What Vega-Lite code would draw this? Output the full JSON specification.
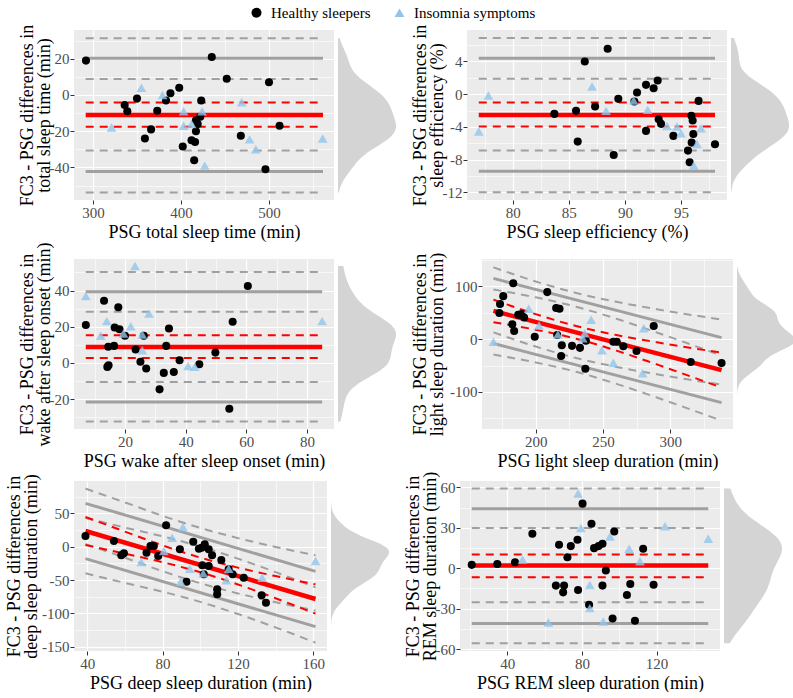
{
  "$schema": "https://vega.github.io/schema/vega-lite/v6.json",
  "padding": {"left": 5, "top": 5, "right": 0, "bottom": 0},
  "datasets": {
    "p1": [
      {"x":292,"y":19,"g":"H"},{"x":435,"y":21,"g":"H"},{"x":452,"y":9,"g":"H"},{"x":500,"y":7,"g":"H"},{"x":398,"y":4,"g":"H"},{"x":388,"y":1,"g":"H"},{"x":350,"y":-2,"g":"H"},{"x":383,"y":-3,"g":"H"},{"x":423,"y":-3,"g":"H"},{"x":336,"y":-5.5,"g":"H"},{"x":339,"y":-9,"g":"H"},{"x":373,"y":-8.7,"g":"H"},{"x":422,"y":-12,"g":"H"},{"x":417,"y":-14,"g":"H"},{"x":419,"y":-16,"g":"H"},{"x":512,"y":-17,"g":"H"},{"x":366,"y":-19,"g":"H"},{"x":417,"y":-20,"g":"H"},{"x":359,"y":-24,"g":"H"},{"x":412,"y":-25,"g":"H"},{"x":416,"y":-26,"g":"H"},{"x":468,"y":-22.5,"g":"H"},{"x":402,"y":-28.5,"g":"H"},{"x":415,"y":-36,"g":"H"},{"x":496,"y":-41,"g":"H"},
      {"x":355,"y":4,"g":"I"},{"x":379,"y":0,"g":"I"},{"x":321,"y":-18,"g":"I"},{"x":403,"y":-9,"g":"I"},{"x":403,"y":-17,"g":"I"},{"x":412,"y":-16,"g":"I"},{"x":424,"y":-9,"g":"I"},{"x":427,"y":-39,"g":"I"},{"x":469,"y":-4,"g":"I"},{"x":478,"y":-24.5,"g":"I"},{"x":485,"y":-30,"g":"I"},{"x":561,"y":-24,"g":"I"}
    ],
    "p1l": [
      {"x":291.7,"y":-11.0,"id":"b"},{"x":561.4,"y":-11.0,"id":"b"},
      {"x":291.7,"y":-4.2,"id":"bu"},{"x":561.4,"y":-4.2,"id":"bu"},
      {"x":291.7,"y":-17.5,"id":"bl"},{"x":561.4,"y":-17.5,"id":"bl"},
      {"x":291.7,"y":20.3,"id":"lu"},{"x":561.4,"y":20.3,"id":"lu"},
      {"x":291.7,"y":-42.2,"id":"ll"},{"x":561.4,"y":-42.2,"id":"ll"},
      {"x":291.7,"y":31.3,"id":"luo"},{"x":561.4,"y":31.3,"id":"luo"},
      {"x":291.7,"y":8.8,"id":"lui"},{"x":561.4,"y":8.8,"id":"lui"},
      {"x":291.7,"y":-30.6,"id":"lli"},{"x":561.4,"y":-30.6,"id":"lli"},
      {"x":291.7,"y":-53.8,"id":"llo"},{"x":561.4,"y":-53.8,"id":"llo"}
    ],
    "p2": [
      {"x":88.46,"y":5.55,"g":"H"},{"x":86.42,"y":4.0,"g":"H"},{"x":92.92,"y":1.67,"g":"H"},{"x":91.88,"y":1.14,"g":"H"},{"x":92.56,"y":0.73,"g":"H"},{"x":91.08,"y":0.2,"g":"H"},{"x":89.41,"y":-0.57,"g":"H"},{"x":96.57,"y":-0.82,"g":"H"},{"x":90.84,"y":-0.9,"g":"H"},{"x":85.64,"y":-2.04,"g":"H"},{"x":83.71,"y":-2.41,"g":"H"},{"x":87.34,"y":-1.51,"g":"H"},{"x":93.01,"y":-3.06,"g":"H"},{"x":93.22,"y":-3.63,"g":"H"},{"x":95.92,"y":-2.65,"g":"H"},{"x":96.04,"y":-3.22,"g":"H"},{"x":91.88,"y":-4.49,"g":"H"},{"x":94.32,"y":-5.1,"g":"H"},{"x":96.1,"y":-4.86,"g":"H"},{"x":85.79,"y":-5.8,"g":"H"},{"x":95.95,"y":-5.92,"g":"H"},{"x":98.03,"y":-6.12,"g":"H"},{"x":95.62,"y":-6.9,"g":"H"},{"x":95.77,"y":-8.33,"g":"H"},{"x":89.0,"y":-7.43,"g":"H"},
      {"x":76.97,"y":-4.57,"g":"I"},{"x":77.83,"y":-0.16,"g":"I"},{"x":87.07,"y":0.94,"g":"I"},{"x":88.32,"y":-2.04,"g":"I"},{"x":90.78,"y":-0.78,"g":"I"},{"x":92.03,"y":-1.92,"g":"I"},{"x":93.75,"y":-3.88,"g":"I"},{"x":94.64,"y":-3.96,"g":"I"},{"x":95.0,"y":-4.78,"g":"I"},{"x":96.42,"y":-6.08,"g":"I"},{"x":96.78,"y":-4.16,"g":"I"},{"x":96.13,"y":-8.73,"g":"I"}
    ],
    "p2l": [
      {"x":76.97,"y":-2.53,"id":"b"},{"x":98.03,"y":-2.53,"id":"b"},
      {"x":76.97,"y":-1.02,"id":"bu"},{"x":98.03,"y":-1.02,"id":"bu"},
      {"x":76.97,"y":-3.96,"id":"bl"},{"x":98.03,"y":-3.96,"id":"bl"},
      {"x":76.97,"y":4.41,"id":"lu"},{"x":98.03,"y":4.41,"id":"lu"},
      {"x":76.97,"y":-9.43,"id":"ll"},{"x":98.03,"y":-9.43,"id":"ll"},
      {"x":76.97,"y":6.86,"id":"luo"},{"x":98.03,"y":6.86,"id":"luo"},
      {"x":76.97,"y":1.88,"id":"lui"},{"x":98.03,"y":1.88,"id":"lui"},
      {"x":76.97,"y":-6.9,"id":"lli"},{"x":98.03,"y":-6.9,"id":"lli"},
      {"x":76.97,"y":-12.0,"id":"llo"},{"x":98.03,"y":-12.0,"id":"llo"}
    ],
    "p3": [
      {"x":7.1,"y":20.9,"g":"H"},{"x":13.1,"y":34.3,"g":"H"},{"x":17.8,"y":30.8,"g":"H"},{"x":16.6,"y":19.6,"g":"H"},{"x":18.2,"y":18.6,"g":"H"},{"x":20.0,"y":15.0,"g":"H"},{"x":26.2,"y":15.0,"g":"H"},{"x":34.5,"y":19.0,"g":"H"},{"x":14.5,"y":8.9,"g":"H"},{"x":16.4,"y":9.4,"g":"H"},{"x":23.5,"y":7.4,"g":"H"},{"x":33.6,"y":9.4,"g":"H"},{"x":25.1,"y":0.6,"g":"H"},{"x":38.0,"y":1.5,"g":"H"},{"x":44.5,"y":-0.7,"g":"H"},{"x":49.8,"y":5.7,"g":"H"},{"x":14.2,"y":-2.2,"g":"H"},{"x":14.6,"y":-1.3,"g":"H"},{"x":27.0,"y":-3.1,"g":"H"},{"x":32.8,"y":-5.5,"g":"H"},{"x":36.1,"y":-5.0,"g":"H"},{"x":31.4,"y":-14.6,"g":"H"},{"x":54.4,"y":-25.3,"g":"H"},{"x":60.5,"y":42.5,"g":"H"},{"x":55.5,"y":22.7,"g":"H"},
      {"x":7.1,"y":36.9,"g":"I"},{"x":23.3,"y":53.5,"g":"I"},{"x":14.0,"y":23.1,"g":"I"},{"x":12.0,"y":15.0,"g":"I"},{"x":21.9,"y":20.3,"g":"I"},{"x":27.9,"y":27.3,"g":"I"},{"x":19.5,"y":16.2,"g":"I"},{"x":25.7,"y":15.7,"g":"I"},{"x":25.7,"y":7.0,"g":"I"},{"x":40.8,"y":-1.7,"g":"I"},{"x":43.0,"y":-2.2,"g":"I"},{"x":85.0,"y":23.1,"g":"I"}
    ],
    "p3l": [
      {"x":7.08,"y":8.86,"id":"b"},{"x":85.0,"y":8.86,"id":"b"},
      {"x":7.08,"y":15.3,"id":"bu"},{"x":85.0,"y":15.3,"id":"bu"},
      {"x":7.08,"y":2.77,"id":"bl"},{"x":85.0,"y":2.77,"id":"bl"},
      {"x":7.08,"y":39.3,"id":"lu"},{"x":85.0,"y":39.3,"id":"lu"},
      {"x":7.08,"y":-21.6,"id":"ll"},{"x":85.0,"y":-21.6,"id":"ll"},
      {"x":7.08,"y":50.2,"id":"luo"},{"x":85.0,"y":50.2,"id":"luo"},
      {"x":7.08,"y":28.2,"id":"lui"},{"x":85.0,"y":28.2,"id":"lui"},
      {"x":7.08,"y":-10.5,"id":"lli"},{"x":85.0,"y":-10.5,"id":"lli"},
      {"x":7.08,"y":-32.3,"id":"llo"},{"x":85.0,"y":-32.3,"id":"llo"}
    ],
    "p4": [
      {"x":183.3,"y":105.4,"g":"H"},{"x":175.9,"y":81.2,"g":"H"},{"x":173.5,"y":66.5,"g":"H"},{"x":173.0,"y":49.2,"g":"H"},{"x":182.6,"y":28.1,"g":"H"},{"x":184.0,"y":15.3,"g":"H"},{"x":208.6,"y":88.8,"g":"H"},{"x":187.0,"y":46.0,"g":"H"},{"x":189.4,"y":47.3,"g":"H"},{"x":191.4,"y":40.9,"g":"H"},{"x":199.3,"y":4.5,"g":"H"},{"x":215.2,"y":58.8,"g":"H"},{"x":217.7,"y":57.5,"g":"H"},{"x":216.0,"y":7.7,"g":"H"},{"x":219.4,"y":-11.5,"g":"H"},{"x":218.9,"y":-31.9,"g":"H"},{"x":227.0,"y":-12.8,"g":"H"},{"x":232.9,"y":-16.6,"g":"H"},{"x":237.3,"y":-3.2,"g":"H"},{"x":236.9,"y":-56.2,"g":"H"},{"x":257.7,"y":-5.1,"g":"H"},{"x":260.2,"y":-5.1,"g":"H"},{"x":265.1,"y":-13.4,"g":"H"},{"x":274.9,"y":-22.4,"g":"H"},{"x":287.7,"y":24.9,"g":"H"},{"x":315.2,"y":-43.5,"g":"H"},{"x":338.1,"y":-45.4,"g":"H"},
      {"x":168.6,"y":-5.1,"g":"I"},{"x":194.8,"y":57.5,"g":"I"},{"x":202.5,"y":25.6,"g":"I"},{"x":216.5,"y":8.9,"g":"I"},{"x":235.0,"y":1.3,"g":"I"},{"x":241.2,"y":36.4,"g":"I"},{"x":249.2,"y":-21.1,"g":"I"},{"x":257.7,"y":-44.7,"g":"I"},{"x":279.4,"y":-64.5,"g":"I"},{"x":280.3,"y":20.4,"g":"I"},{"x":236.4,"y":10.9,"g":"I"}
    ],
    "p4l": [
      {"x":168.6,"y":53.2,"id":"b"},{"x":338.1,"y":-58.7,"id":"b"},
      {"x":168.6,"y":74.4,"id":"bu"},{"x":200,"y":47.1,"id":"bu"},{"x":230,"y":24.7,"id":"bu"},{"x":260,"y":7.6,"id":"bu"},{"x":290,"y":-6.1,"id":"bu"},{"x":338.1,"y":-25.7,"id":"bu"},
      {"x":168.6,"y":32.0,"id":"bl"},{"x":200,"y":17.7,"id":"bl"},{"x":230,"y":0.7,"id":"bl"},{"x":260,"y":-21.8,"id":"bl"},{"x":290,"y":-47.9,"id":"bl"},{"x":338.1,"y":-91.7,"id":"bl"},
      {"x":168.6,"y":114.7,"id":"lu"},{"x":338.1,"y":2.8,"id":"lu"},
      {"x":168.6,"y":-8.3,"id":"ll"},{"x":338.1,"y":-120.2,"id":"ll"},
      {"x":168.6,"y":135.7,"id":"luo"},{"x":200,"y":108.9,"id":"luo"},{"x":230,"y":87.2,"id":"luo"},{"x":260,"y":70.4,"id":"luo"},{"x":290,"y":56.5,"id":"luo"},{"x":338.1,"y":36.8,"id":"luo"},
      {"x":168.6,"y":93.7,"id":"lui"},{"x":200,"y":78.9,"id":"lui"},{"x":230,"y":61.2,"id":"lui"},{"x":260,"y":38.4,"id":"lui"},{"x":290,"y":12.5,"id":"lui"},{"x":338.1,"y":-31.2,"id":"lui"},
      {"x":168.6,"y":12.7,"id":"lli"},{"x":200,"y":-14.1,"id":"lli"},{"x":230,"y":-35.8,"id":"lli"},{"x":260,"y":-52.6,"id":"lli"},{"x":290,"y":-66.5,"id":"lli"},{"x":338.1,"y":-86.2,"id":"lli"},
      {"x":168.6,"y":-29.3,"id":"llo"},{"x":200,"y":-44.1,"id":"llo"},{"x":230,"y":-61.8,"id":"llo"},{"x":260,"y":-84.6,"id":"llo"},{"x":290,"y":-110.5,"id":"llo"},{"x":338.1,"y":-154.2,"id":"llo"}
    ],
    "p5": [
      {"x":39.1,"y":16,"g":"H"},{"x":54.2,"y":8.5,"g":"H"},{"x":58.1,"y":-13,"g":"H"},{"x":59.5,"y":-10,"g":"H"},{"x":71.5,"y":-9,"g":"H"},{"x":73.6,"y":1,"g":"H"},{"x":75.4,"y":1,"g":"H"},{"x":77.7,"y":-14,"g":"H"},{"x":81.9,"y":32,"g":"H"},{"x":89.2,"y":-4,"g":"H"},{"x":96.3,"y":7.5,"g":"H"},{"x":99.3,"y":-3,"g":"H"},{"x":100.7,"y":-1.5,"g":"H"},{"x":102.4,"y":3.5,"g":"H"},{"x":104.5,"y":-4,"g":"H"},{"x":106.3,"y":-13,"g":"H"},{"x":101.1,"y":-28,"g":"H"},{"x":101.9,"y":-41.5,"g":"H"},{"x":104.5,"y":-29,"g":"H"},{"x":111.2,"y":-20,"g":"H"},{"x":115.1,"y":-34,"g":"H"},{"x":117.2,"y":-41.5,"g":"H"},{"x":123.1,"y":-46.5,"g":"H"},{"x":92.7,"y":-52.5,"g":"H"},{"x":109.0,"y":-64,"g":"H"},{"x":109.0,"y":-71.5,"g":"H"},{"x":132.6,"y":-73,"g":"H"},{"x":134.9,"y":-84,"g":"H"},
      {"x":68.7,"y":-23,"g":"I"},{"x":80.7,"y":-6.5,"g":"I"},{"x":85.1,"y":13.5,"g":"I"},{"x":90.8,"y":29.5,"g":"I"},{"x":89.6,"y":-52.5,"g":"I"},{"x":94.5,"y":-33,"g":"I"},{"x":101.6,"y":-40,"g":"I"},{"x":113.9,"y":-50.5,"g":"I"},{"x":115.1,"y":-33,"g":"I"},{"x":132.9,"y":-46.5,"g":"I"},{"x":161.2,"y":-21.5,"g":"I"}
    ],
    "p5l": [
      {"x":39.1,"y":23.5,"id":"b"},{"x":161.2,"y":-78.5,"id":"b"},
      {"x":39.1,"y":44.5,"id":"bu"},{"x":60,"y":22.65,"id":"bu"},{"x":80,"y":1.95,"id":"bu"},{"x":100,"y":-16.35,"id":"bu"},{"x":120,"y":-31.45,"id":"bu"},{"x":140,"y":-44.15,"id":"bu"},{"x":161.2,"y":-56.5,"id":"bu"},
      {"x":39.1,"y":2.5,"id":"bl"},{"x":60,"y":-10.55,"id":"bl"},{"x":80,"y":-23.25,"id":"bl"},{"x":100,"y":-38.35,"id":"bl"},{"x":120,"y":-56.65,"id":"bl"},{"x":140,"y":-77.35,"id":"bl"},{"x":161.2,"y":-100.5,"id":"bl"},
      {"x":39.1,"y":65.0,"id":"lu"},{"x":161.2,"y":-37.0,"id":"lu"},
      {"x":39.1,"y":-18.0,"id":"ll"},{"x":161.2,"y":-120.0,"id":"ll"},
      {"x":39.1,"y":87.0,"id":"luo"},{"x":60,"y":66.45,"id":"luo"},{"x":80,"y":46.25,"id":"luo"},{"x":100,"y":28.15,"id":"luo"},{"x":120,"y":12.85,"id":"luo"},{"x":140,"y":-0.35,"id":"luo"},{"x":161.2,"y":-13.0,"id":"luo"},
      {"x":39.1,"y":43.0,"id":"lui"},{"x":60,"y":28.65,"id":"lui"},{"x":80,"y":15.45,"id":"lui"},{"x":100,"y":0.15,"id":"lui"},{"x":120,"y":-17.95,"id":"lui"},{"x":140,"y":-38.15,"id":"lui"},{"x":161.2,"y":-61.0,"id":"lui"},
      {"x":39.1,"y":4.0,"id":"lli"},{"x":60,"y":-16.55,"id":"lli"},{"x":80,"y":-36.75,"id":"lli"},{"x":100,"y":-54.85,"id":"lli"},{"x":120,"y":-70.15,"id":"lli"},{"x":140,"y":-83.35,"id":"lli"},{"x":161.2,"y":-96.0,"id":"lli"},
      {"x":39.1,"y":-40.0,"id":"llo"},{"x":60,"y":-54.35,"id":"llo"},{"x":80,"y":-67.55,"id":"llo"},{"x":100,"y":-82.85,"id":"llo"},{"x":120,"y":-100.95,"id":"llo"},{"x":140,"y":-121.15,"id":"llo"},{"x":161.2,"y":-144.0,"id":"llo"}
    ],
    "p6": [
      {"x":20.9,"y":2.5,"g":"H"},{"x":34.6,"y":3.2,"g":"H"},{"x":44.1,"y":4.5,"g":"H"},{"x":53.4,"y":25.6,"g":"H"},{"x":67.7,"y":17.4,"g":"H"},{"x":74.0,"y":16.4,"g":"H"},{"x":77.6,"y":21.1,"g":"H"},{"x":72.2,"y":8.2,"g":"H"},{"x":80.3,"y":47.9,"g":"H"},{"x":85.1,"y":33.0,"g":"H"},{"x":86.5,"y":14.9,"g":"H"},{"x":88.9,"y":16.4,"g":"H"},{"x":91.0,"y":18.1,"g":"H"},{"x":97.3,"y":27.3,"g":"H"},{"x":92.8,"y":-1.7,"g":"H"},{"x":66.0,"y":-12.9,"g":"H"},{"x":70.4,"y":-12.9,"g":"H"},{"x":69.9,"y":-17.9,"g":"H"},{"x":77.9,"y":-16.1,"g":"H"},{"x":91.0,"y":-12.9,"g":"H"},{"x":105.9,"y":-11.7,"g":"H"},{"x":118.4,"y":-12.2,"g":"H"},{"x":112.8,"y":14.4,"g":"H"},{"x":104.1,"y":-19.9,"g":"H"},{"x":83.8,"y":-27.1,"g":"H"},{"x":96.4,"y":-37.3,"g":"H"},{"x":108.4,"y":-39.0,"g":"H"},
      {"x":77.9,"y":55.4,"g":"I"},{"x":79.4,"y":29.8,"g":"I"},{"x":48.1,"y":6.5,"g":"I"},{"x":62.0,"y":-40.2,"g":"I"},{"x":84.2,"y":-12.4,"g":"I"},{"x":84.2,"y":-29.6,"g":"I"},{"x":91.4,"y":-39.5,"g":"I"},{"x":95.0,"y":23.6,"g":"I"},{"x":105.3,"y":14.4,"g":"I"},{"x":111.1,"y":5.2,"g":"I"},{"x":124.5,"y":31.1,"g":"I"},{"x":147.7,"y":21.9,"g":"I"}
    ],
    "p6l": [
      {"x":20.9,"y":2.0,"id":"b"},{"x":147.7,"y":2.0,"id":"b"},
      {"x":20.9,"y":10.2,"id":"bu"},{"x":147.7,"y":10.2,"id":"bu"},
      {"x":20.9,"y":-6.7,"id":"bl"},{"x":147.7,"y":-6.7,"id":"bl"},
      {"x":20.9,"y":44.2,"id":"lu"},{"x":147.7,"y":44.2,"id":"lu"},
      {"x":20.9,"y":-41.0,"id":"ll"},{"x":147.7,"y":-41.0,"id":"ll"},
      {"x":20.9,"y":59.1,"id":"luo"},{"x":147.7,"y":59.1,"id":"luo"},
      {"x":20.9,"y":29.8,"id":"lui"},{"x":147.7,"y":29.8,"id":"lui"},
      {"x":20.9,"y":-25.3,"id":"lli"},{"x":147.7,"y":-25.3,"id":"lli"},
      {"x":20.9,"y":-55.7,"id":"llo"},{"x":147.7,"y":-55.7,"id":"llo"}
    ]
  },
  "columns": 1,
  "align": "none",
  "spacing": 1,
  "concat": [
    {"spacing": 15, "hconcat": [
      {"spacing": 4, "hconcat": [
        {"width": 260, "height": 170, "view": {"fill": "#ebebeb", "stroke": null},
         "encoding": {
           "x": {"field": "x", "type": "quantitative", "scale": {"domain": [278.4, 573.9], "nice": false, "zero": false},
                 "axis": {"title": "PSG total sleep time (min)", "values": [300,350,400,450,500,550], "labelExpr": "datum.value % 100 === 0 ? '' + datum.value : ''", "gridWidth": {"condition": {"test": "datum.value % 100 !== 0", "value": 0.6}, "value": 1.2}, "tickOpacity": {"condition": {"test": "datum.value % 100 !== 0", "value": 0}, "value": 1}}},
           "y": {"field": "y", "type": "quantitative", "scale": {"domain": [-58.0, 35.9], "nice": false, "zero": false},
                 "axis": {"title": ["FC3 - PSG differences in", "total sleep time (min)"], "values": [-50,-40,-30,-20,-10,0,10,20,30], "labelExpr": "datum.value % 20 === 0 ? '' + datum.value : ''", "gridWidth": {"condition": {"test": "datum.value % 20 !== 0", "value": 0.6}, "value": 1.2}, "tickOpacity": {"condition": {"test": "datum.value % 20 !== 0", "value": 0}, "value": 1}}}
         },
         "layer": [
           {"data": {"name": "p1l"}, "transform": [{"filter": {"field": "id", "oneOf": ["luo","lui","lli","llo"]}}], "mark": {"type": "line", "color": "#a0a0a0", "strokeWidth": 2, "strokeDash": [8, 6]}, "encoding": {"detail": {"field": "id"}}},
           {"data": {"name": "p1l"}, "transform": [{"filter": {"field": "id", "oneOf": ["lu","ll"]}}], "mark": {"type": "line", "color": "#a0a0a0", "strokeWidth": 3}, "encoding": {"detail": {"field": "id"}}},
           {"data": {"name": "p1l"}, "transform": [{"filter": {"field": "id", "oneOf": ["bu","bl"]}}], "mark": {"type": "line", "color": "#ff0000", "strokeWidth": 2, "strokeDash": [8, 6]}, "encoding": {"detail": {"field": "id"}}},
           {"data": {"name": "p1l"}, "transform": [{"filter": {"field": "id", "equal": "b"}}], "mark": {"type": "line", "color": "#ff0000", "strokeWidth": 4.5}, "encoding": {}},
           {"data": {"name": "p1"}, "mark": {"type": "point", "filled": true, "strokeWidth": 0},
            "encoding": {
              "color": {"field": "g", "type": "nominal", "scale": {"domain": ["H","I"], "range": ["#000000", "#92c5ec"]}, "legend": {"title": null, "orient": "none", "legendX": 175, "legendY": -25, "direction": "horizontal", "columns": 2, "labelFont": "Liberation Serif", "labelFontSize": 15, "labelColor": "#000000", "labelOffset": 7, "columnPadding": 21, "labelExpr": "datum.label === 'H' ? 'Healthy sleepers' : 'Insomnia symptoms'"}},
              "shape": {"field": "g", "type": "nominal", "scale": {"domain": ["H","I"], "range": ["circle", "triangle-up"]}, "legend": {"title": null, "orient": "none", "legendX": 175, "legendY": -25, "direction": "horizontal", "columns": 2, "labelFont": "Liberation Serif", "labelFontSize": 15, "labelColor": "#000000", "labelOffset": 7, "columnPadding": 21, "labelExpr": "datum.label === 'H' ? 'Healthy sleepers' : 'Insomnia symptoms'"}},
              "size": {"condition": {"test": "datum.g === 'I'", "value": 95}, "value": 65},
              "opacity": {"condition": {"test": "datum.g === 'I'", "value": 0.8}, "value": 1}
            }}
         ]},
        {"width": 58, "height": 170, "view": {"stroke": null, "fill": null}, "data": {"name": "p1"},
         "transform": [{"density": "y", "bandwidth": 6.5, "extent": [-53.8, 31.3], "as": ["v", "d"]}],
         "mark": {"type": "area", "orient": "horizontal", "color": "#d4d4d4"},
         "encoding": {"y": {"field": "v", "type": "quantitative", "scale": {"domain": [-58.0, 35.9], "nice": false, "zero": false}, "axis": null},
                      "x": {"field": "d", "type": "quantitative", "scale": {"zero": true, "nice": false}, "axis": null}}}
      ]},
      {"spacing": 4, "hconcat": [
        {"width": 260, "height": 170, "view": {"fill": "#ebebeb", "stroke": null},
         "encoding": {
           "x": {"field": "x", "type": "quantitative", "scale": {"domain": [75.92, 99.1], "nice": false, "zero": false},
                 "axis": {"title": "PSG sleep efficiency (%)", "values": [77.5,80,82.5,85,87.5,90,92.5,95,97.5], "labelExpr": "datum.value % 5 === 0 ? '' + datum.value : ''", "gridWidth": {"condition": {"test": "datum.value % 5 !== 0", "value": 0.6}, "value": 1.2}, "tickOpacity": {"condition": {"test": "datum.value % 5 !== 0", "value": 0}, "value": 1}}},
           "y": {"field": "y", "type": "quantitative", "scale": {"domain": [-12.94, 7.85], "nice": false, "zero": false},
                 "axis": {"title": ["FC3 - PSG differences in", "sleep efficiency (%)"], "values": [-12,-10,-8,-6,-4,-2,0,2,4,6], "labelExpr": "datum.value % 4 === 0 ? '' + datum.value : ''", "gridWidth": {"condition": {"test": "datum.value % 4 !== 0", "value": 0.6}, "value": 1.2}, "tickOpacity": {"condition": {"test": "datum.value % 4 !== 0", "value": 0}, "value": 1}}}
         },
         "layer": [
           {"data": {"name": "p2l"}, "transform": [{"filter": {"field": "id", "oneOf": ["luo","lui","lli","llo"]}}], "mark": {"type": "line", "color": "#a0a0a0", "strokeWidth": 2, "strokeDash": [8, 6]}, "encoding": {"detail": {"field": "id"}}},
           {"data": {"name": "p2l"}, "transform": [{"filter": {"field": "id", "oneOf": ["lu","ll"]}}], "mark": {"type": "line", "color": "#a0a0a0", "strokeWidth": 3}, "encoding": {"detail": {"field": "id"}}},
           {"data": {"name": "p2l"}, "transform": [{"filter": {"field": "id", "oneOf": ["bu","bl"]}}], "mark": {"type": "line", "color": "#ff0000", "strokeWidth": 2, "strokeDash": [8, 6]}, "encoding": {"detail": {"field": "id"}}},
           {"data": {"name": "p2l"}, "transform": [{"filter": {"field": "id", "equal": "b"}}], "mark": {"type": "line", "color": "#ff0000", "strokeWidth": 4.5}, "encoding": {}},
           {"data": {"name": "p2"}, "mark": {"type": "point", "filled": true, "strokeWidth": 0},
            "encoding": {
              "color": {"field": "g", "type": "nominal", "scale": {"domain": ["H","I"], "range": ["#000000", "#92c5ec"]}, "legend": null},
              "shape": {"field": "g", "type": "nominal", "scale": {"domain": ["H","I"], "range": ["circle", "triangle-up"]}, "legend": null},
              "size": {"condition": {"test": "datum.g === 'I'", "value": 95}, "value": 65},
              "opacity": {"condition": {"test": "datum.g === 'I'", "value": 0.8}, "value": 1}
            }}
         ]},
        {"width": 58, "height": 170, "view": {"stroke": null, "fill": null}, "data": {"name": "p2"},
         "transform": [{"density": "y", "bandwidth": 1.35, "extent": [-12.0, 6.86], "as": ["v", "d"]}],
         "mark": {"type": "area", "orient": "horizontal", "color": "#d4d4d4"},
         "encoding": {"y": {"field": "v", "type": "quantitative", "scale": {"domain": [-12.94, 7.85], "nice": false, "zero": false}, "axis": null},
                      "x": {"field": "d", "type": "quantitative", "scale": {"zero": true, "nice": false}, "axis": null}}}
      ]}
    ]},
    {"spacing": 15, "hconcat": [
      {"spacing": 4, "hconcat": [
        {"width": 260, "height": 170, "view": {"fill": "#ebebeb", "stroke": null},
         "encoding": {
           "x": {"field": "x", "type": "quantitative", "scale": {"domain": [3.2, 88.9], "nice": false, "zero": false},
                 "axis": {"title": "PSG wake after sleep onset (min)", "values": [10,20,30,40,50,60,70,80], "labelExpr": "datum.value % 20 === 0 ? '' + datum.value : ''", "gridWidth": {"condition": {"test": "datum.value % 20 !== 0", "value": 0.6}, "value": 1.2}, "tickOpacity": {"condition": {"test": "datum.value % 20 !== 0", "value": 0}, "value": 1}}},
           "y": {"field": "y", "type": "quantitative", "scale": {"domain": [-36.5, 57.4], "nice": false, "zero": false},
                 "axis": {"title": ["FC3 - PSG differences in", "wake after sleep onset (min)"], "values": [-30,-20,-10,0,10,20,30,40,50], "labelExpr": "datum.value % 20 === 0 ? '' + datum.value : ''", "gridWidth": {"condition": {"test": "datum.value % 20 !== 0", "value": 0.6}, "value": 1.2}, "tickOpacity": {"condition": {"test": "datum.value % 20 !== 0", "value": 0}, "value": 1}}}
         },
         "layer": [
           {"data": {"name": "p3l"}, "transform": [{"filter": {"field": "id", "oneOf": ["luo","lui","lli","llo"]}}], "mark": {"type": "line", "color": "#a0a0a0", "strokeWidth": 2, "strokeDash": [8, 6]}, "encoding": {"detail": {"field": "id"}}},
           {"data": {"name": "p3l"}, "transform": [{"filter": {"field": "id", "oneOf": ["lu","ll"]}}], "mark": {"type": "line", "color": "#a0a0a0", "strokeWidth": 3}, "encoding": {"detail": {"field": "id"}}},
           {"data": {"name": "p3l"}, "transform": [{"filter": {"field": "id", "oneOf": ["bu","bl"]}}], "mark": {"type": "line", "color": "#ff0000", "strokeWidth": 2, "strokeDash": [8, 6]}, "encoding": {"detail": {"field": "id"}}},
           {"data": {"name": "p3l"}, "transform": [{"filter": {"field": "id", "equal": "b"}}], "mark": {"type": "line", "color": "#ff0000", "strokeWidth": 4.5}, "encoding": {}},
           {"data": {"name": "p3"}, "mark": {"type": "point", "filled": true, "strokeWidth": 0},
            "encoding": {
              "color": {"field": "g", "type": "nominal", "scale": {"domain": ["H","I"], "range": ["#000000", "#92c5ec"]}, "legend": null},
              "shape": {"field": "g", "type": "nominal", "scale": {"domain": ["H","I"], "range": ["circle", "triangle-up"]}, "legend": null},
              "size": {"condition": {"test": "datum.g === 'I'", "value": 95}, "value": 65},
              "opacity": {"condition": {"test": "datum.g === 'I'", "value": 0.8}, "value": 1}
            }}
         ]},
        {"width": 58, "height": 170, "view": {"stroke": null, "fill": null}, "data": {"name": "p3"},
         "transform": [{"density": "y", "bandwidth": 7.0, "extent": [-32.3, 53.5], "as": ["v", "d"]}],
         "mark": {"type": "area", "orient": "horizontal", "color": "#d4d4d4"},
         "encoding": {"y": {"field": "v", "type": "quantitative", "scale": {"domain": [-36.5, 57.4], "nice": false, "zero": false}, "axis": null},
                      "x": {"field": "d", "type": "quantitative", "scale": {"zero": true, "nice": false}, "axis": null}}}
      ]},
      {"spacing": 4, "hconcat": [
        {"width": 251, "height": 170, "view": {"fill": "#ebebeb", "stroke": null},
         "encoding": {
           "x": {"field": "x", "type": "quantitative", "scale": {"domain": [160.1, 346.6], "nice": false, "zero": false},
                 "axis": {"title": "PSG light sleep duration (min)", "values": [175,200,225,250,275,300,325], "labelExpr": "datum.value % 50 === 0 ? '' + datum.value : ''", "gridWidth": {"condition": {"test": "datum.value % 50 !== 0", "value": 0.6}, "value": 1.2}, "tickOpacity": {"condition": {"test": "datum.value % 50 !== 0", "value": 0}, "value": 1}}},
           "y": {"field": "y", "type": "quantitative", "scale": {"domain": [-170, 151.4], "nice": false, "zero": false},
                 "axis": {"title": ["FC3 - PSG differences in", "light sleep duration (min)"], "titlePadding": 3, "values": [-150,-100,-50,0,50,100,150], "labelExpr": "datum.value % 100 === 0 ? '' + datum.value : ''", "gridWidth": {"condition": {"test": "datum.value % 100 !== 0", "value": 0.6}, "value": 1.2}, "tickOpacity": {"condition": {"test": "datum.value % 100 !== 0", "value": 0}, "value": 1}}}
         },
         "layer": [
           {"data": {"name": "p4l"}, "transform": [{"filter": {"field": "id", "oneOf": ["luo","lui","lli","llo"]}}], "mark": {"type": "line", "color": "#a0a0a0", "strokeWidth": 2, "strokeDash": [8, 6], "interpolate": "monotone"}, "encoding": {"detail": {"field": "id"}}},
           {"data": {"name": "p4l"}, "transform": [{"filter": {"field": "id", "oneOf": ["lu","ll"]}}], "mark": {"type": "line", "color": "#a0a0a0", "strokeWidth": 3}, "encoding": {"detail": {"field": "id"}}},
           {"data": {"name": "p4l"}, "transform": [{"filter": {"field": "id", "oneOf": ["bu","bl"]}}], "mark": {"type": "line", "color": "#ff0000", "strokeWidth": 2, "strokeDash": [8, 6], "interpolate": "monotone"}, "encoding": {"detail": {"field": "id"}}},
           {"data": {"name": "p4l"}, "transform": [{"filter": {"field": "id", "equal": "b"}}], "mark": {"type": "line", "color": "#ff0000", "strokeWidth": 4.5}, "encoding": {}},
           {"data": {"name": "p4"}, "mark": {"type": "point", "filled": true, "strokeWidth": 0},
            "encoding": {
              "color": {"field": "g", "type": "nominal", "scale": {"domain": ["H","I"], "range": ["#000000", "#92c5ec"]}, "legend": null},
              "shape": {"field": "g", "type": "nominal", "scale": {"domain": ["H","I"], "range": ["circle", "triangle-up"]}, "legend": null},
              "size": {"condition": {"test": "datum.g === 'I'", "value": 95}, "value": 65},
              "opacity": {"condition": {"test": "datum.g === 'I'", "value": 0.8}, "value": 1}
            }}
         ]},
        {"width": 58, "height": 170, "view": {"stroke": null, "fill": null}, "data": {"name": "p4"},
         "transform": [{"density": "y", "bandwidth": 14.6, "extent": [-154.2, 135.7], "as": ["v", "d"]}],
         "mark": {"type": "area", "orient": "horizontal", "color": "#d4d4d4"},
         "encoding": {"y": {"field": "v", "type": "quantitative", "scale": {"domain": [-170, 151.4], "nice": false, "zero": false}, "axis": null},
                      "x": {"field": "d", "type": "quantitative", "scale": {"zero": true, "nice": false}, "axis": null}}}
      ]}
    ]},
    {"spacing": 15, "hconcat": [
      {"spacing": 4, "hconcat": [
        {"width": 253, "height": 170, "view": {"fill": "#ebebeb", "stroke": null},
         "encoding": {
           "x": {"field": "x", "type": "quantitative", "scale": {"domain": [33.0, 167.3], "nice": false, "zero": false},
                 "axis": {"title": "PSG deep sleep duration (min)", "values": [40,60,80,100,120,140,160], "labelExpr": "datum.value % 40 === 0 ? '' + datum.value : ''", "gridWidth": {"condition": {"test": "datum.value % 40 !== 0", "value": 0.6}, "value": 1.2}, "tickOpacity": {"condition": {"test": "datum.value % 40 !== 0", "value": 0}, "value": 1}}},
           "y": {"field": "y", "type": "quantitative", "scale": {"domain": [-156.5, 98.5], "nice": false, "zero": false},
                 "axis": {"title": ["FC3 - PSG differences in", "deep sleep duration (min)"], "titlePadding": 1, "values": [-150,-125,-100,-75,-50,-25,0,25,50,75], "labelExpr": "datum.value % 50 === 0 ? '' + datum.value : ''", "gridWidth": {"condition": {"test": "datum.value % 50 !== 0", "value": 0.6}, "value": 1.2}, "tickOpacity": {"condition": {"test": "datum.value % 50 !== 0", "value": 0}, "value": 1}}}
         },
         "layer": [
           {"data": {"name": "p5l"}, "transform": [{"filter": {"field": "id", "oneOf": ["luo","lui","lli","llo"]}}], "mark": {"type": "line", "color": "#a0a0a0", "strokeWidth": 2, "strokeDash": [8, 6], "interpolate": "monotone"}, "encoding": {"detail": {"field": "id"}}},
           {"data": {"name": "p5l"}, "transform": [{"filter": {"field": "id", "oneOf": ["lu","ll"]}}], "mark": {"type": "line", "color": "#a0a0a0", "strokeWidth": 3}, "encoding": {"detail": {"field": "id"}}},
           {"data": {"name": "p5l"}, "transform": [{"filter": {"field": "id", "oneOf": ["bu","bl"]}}], "mark": {"type": "line", "color": "#ff0000", "strokeWidth": 2, "strokeDash": [8, 6], "interpolate": "monotone"}, "encoding": {"detail": {"field": "id"}}},
           {"data": {"name": "p5l"}, "transform": [{"filter": {"field": "id", "equal": "b"}}], "mark": {"type": "line", "color": "#ff0000", "strokeWidth": 4.5}, "encoding": {}},
           {"data": {"name": "p5"}, "mark": {"type": "point", "filled": true, "strokeWidth": 0},
            "encoding": {
              "color": {"field": "g", "type": "nominal", "scale": {"domain": ["H","I"], "range": ["#000000", "#92c5ec"]}, "legend": null},
              "shape": {"field": "g", "type": "nominal", "scale": {"domain": ["H","I"], "range": ["circle", "triangle-up"]}, "legend": null},
              "size": {"condition": {"test": "datum.g === 'I'", "value": 95}, "value": 65},
              "opacity": {"condition": {"test": "datum.g === 'I'", "value": 0.8}, "value": 1}
            }}
         ]},
        {"width": 58, "height": 170, "view": {"stroke": null, "fill": null}, "data": {"name": "p5"},
         "transform": [{"density": "y", "bandwidth": 12.6, "extent": [-144, 87], "as": ["v", "d"]}],
         "mark": {"type": "area", "orient": "horizontal", "color": "#d4d4d4"},
         "encoding": {"y": {"field": "v", "type": "quantitative", "scale": {"domain": [-156.5, 98.5], "nice": false, "zero": false}, "axis": null},
                      "x": {"field": "d", "type": "quantitative", "scale": {"zero": true, "nice": false}, "axis": null}}}
      ]},
      {"spacing": 4, "hconcat": [
        {"width": 260, "height": 170, "view": {"fill": "#ebebeb", "stroke": null},
         "encoding": {
           "x": {"field": "x", "type": "quantitative", "scale": {"domain": [14.6, 154.0], "nice": false, "zero": false},
                 "axis": {"title": "PSG REM sleep duration (min)", "values": [20,40,60,80,100,120,140], "labelExpr": "datum.value % 40 === 0 ? '' + datum.value : ''", "gridWidth": {"condition": {"test": "datum.value % 40 !== 0", "value": 0.6}, "value": 1.2}, "tickOpacity": {"condition": {"test": "datum.value % 40 !== 0", "value": 0}, "value": 1}}},
           "y": {"field": "y", "type": "quantitative", "scale": {"domain": [-61.4, 64.7], "nice": false, "zero": false},
                 "axis": {"title": ["FC3 - PSG differences in", "REM sleep duration (min)"], "values": [-60,-45,-30,-15,0,15,30,45,60], "labelExpr": "datum.value % 30 === 0 ? '' + datum.value : ''", "gridWidth": {"condition": {"test": "datum.value % 30 !== 0", "value": 0.6}, "value": 1.2}, "tickOpacity": {"condition": {"test": "datum.value % 30 !== 0", "value": 0}, "value": 1}}}
         },
         "layer": [
           {"data": {"name": "p6l"}, "transform": [{"filter": {"field": "id", "oneOf": ["luo","lui","lli","llo"]}}], "mark": {"type": "line", "color": "#a0a0a0", "strokeWidth": 2, "strokeDash": [8, 6]}, "encoding": {"detail": {"field": "id"}}},
           {"data": {"name": "p6l"}, "transform": [{"filter": {"field": "id", "oneOf": ["lu","ll"]}}], "mark": {"type": "line", "color": "#a0a0a0", "strokeWidth": 3}, "encoding": {"detail": {"field": "id"}}},
           {"data": {"name": "p6l"}, "transform": [{"filter": {"field": "id", "oneOf": ["bu","bl"]}}], "mark": {"type": "line", "color": "#ff0000", "strokeWidth": 2, "strokeDash": [8, 6]}, "encoding": {"detail": {"field": "id"}}},
           {"data": {"name": "p6l"}, "transform": [{"filter": {"field": "id", "equal": "b"}}], "mark": {"type": "line", "color": "#ff0000", "strokeWidth": 4.5}, "encoding": {}},
           {"data": {"name": "p6"}, "mark": {"type": "point", "filled": true, "strokeWidth": 0},
            "encoding": {
              "color": {"field": "g", "type": "nominal", "scale": {"domain": ["H","I"], "range": ["#000000", "#92c5ec"]}, "legend": null},
              "shape": {"field": "g", "type": "nominal", "scale": {"domain": ["H","I"], "range": ["circle", "triangle-up"]}, "legend": null},
              "size": {"condition": {"test": "datum.g === 'I'", "value": 95}, "value": 65},
              "opacity": {"condition": {"test": "datum.g === 'I'", "value": 0.8}, "value": 1}
            }}
         ]},
        {"width": 58, "height": 170, "view": {"stroke": null, "fill": null}, "data": {"name": "p6"},
         "transform": [{"density": "y", "bandwidth": 12, "extent": [-55.7, 59.1], "as": ["v", "d"]}],
         "mark": {"type": "area", "orient": "horizontal", "color": "#d4d4d4"},
         "encoding": {"y": {"field": "v", "type": "quantitative", "scale": {"domain": [-61.4, 64.7], "nice": false, "zero": false}, "axis": null},
                      "x": {"field": "d", "type": "quantitative", "scale": {"zero": true, "nice": false}, "axis": null}}}
      ]}
    ]}
  ],
  "config": {
    "font": "Liberation Serif",
    "view": {"stroke": null},
    "axis": {
      "labelFont": "Liberation Serif", "labelFontSize": 15, "labelColor": "#4d4d4d",
      "titleFont": "Liberation Serif", "titleFontSize": 18, "titleFontWeight": "normal", "titleColor": "#000000",
      "titleLineHeight": 17, "domain": false, "tickColor": "#333333", "tickSize": 4, "tickWidth": 1,
      "labelPadding": 1, "gridColor": "#ffffff", "grid": true,
      "labelFlush": false, "labelOverlap": false
    },
    "axisX": {"titlePadding": 3},
    "axisY": {"titlePadding": -4},
    "legend": {
      "labelFont": "Liberation Serif", "labelFontSize": 15, "labelColor": "#000000",
      "symbolSize": 100, "columnPadding": 21, "labelOffset": 7, "symbolStrokeWidth": 0, "padding": 0
    }
  }
}
